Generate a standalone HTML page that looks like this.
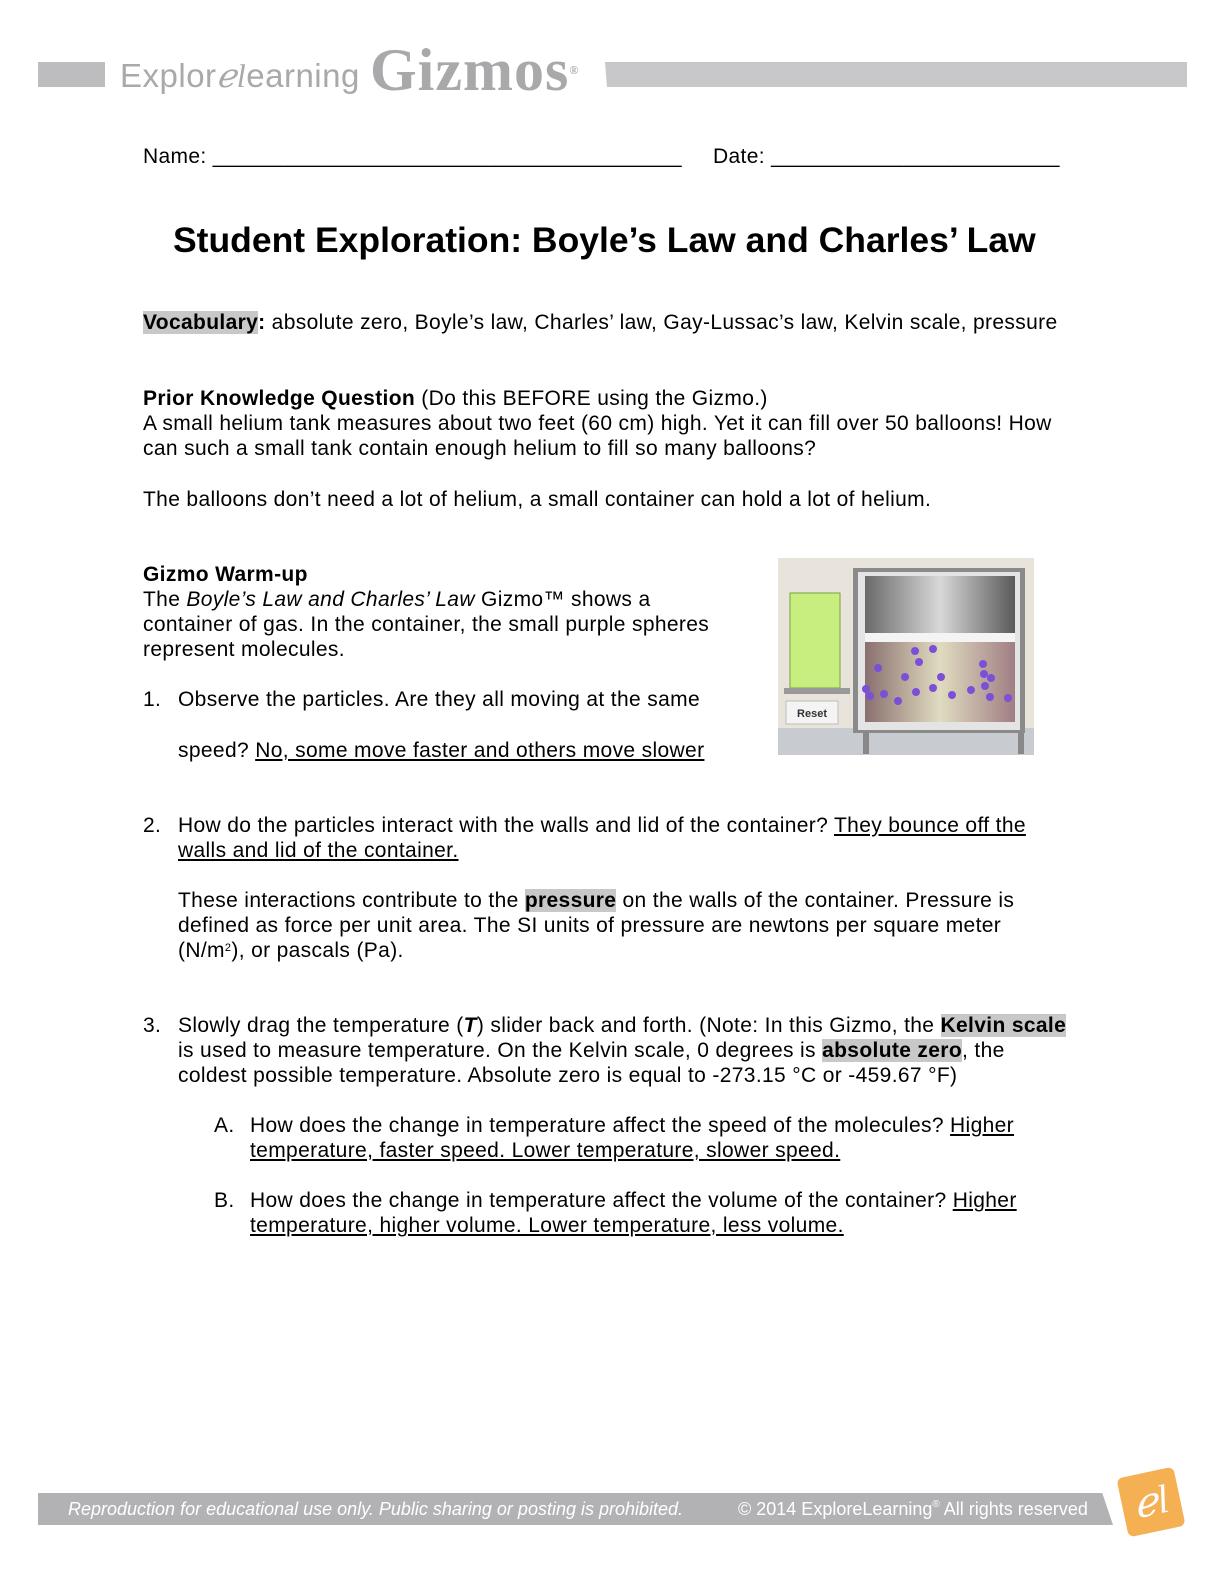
<!DOCTYPE html>
<html><head><style>
body{margin:0;width:1224px;height:1584px;background:#fff;position:relative;font-family:"Liberation Sans",sans-serif;color:#000;overflow:hidden}
.t{position:absolute;font-size:21px;letter-spacing:0.35px;line-height:25px;white-space:nowrap}
u{text-decoration:underline}
.hl{background:#c8c8c8}
</style></head><body>
<div style="position:absolute;left:38px;top:62px;width:67px;height:25px;background:#bdbdbf"></div>
<div style="position:absolute;left:120px;top:56px;font-size:33px;letter-spacing:0.5px;color:#a9a9ab;line-height:40px">Explor<span style="font-family:'Liberation Serif';font-style:italic">ℯl</span>earning</div>
<div style="position:absolute;left:370px;top:36px;font-family:'Liberation Serif',serif;font-weight:bold;font-size:60px;letter-spacing:1px;color:#a9a9ab;line-height:68px">Gizmos<span style="font-size:12px;vertical-align:top">®</span></div>
<div style="position:absolute;left:605px;top:62px;width:582px;height:25px;background:#c8c8ca;clip-path:polygon(0 0,100% 0,100% 100%,2px 100%)"></div>

<div class="t" style="left:143px;top:144px">Name: _______________________________________</div>
<div class="t" style="left:713px;top:144px">Date: ________________________</div>
<div class="t" style="left:173px;top:220px;font-size:35.5px;letter-spacing:0;line-height:40px;font-weight:bold">Student Exploration: Boyle’s Law and Charles’ Law</div>
<div class="t" style="left:143px;top:310px"><b class="hl">Vocabulary</b><b>:</b> absolute zero, Boyle’s law, Charles’ law, Gay-Lussac’s law, Kelvin scale, pressure</div>
<div class="t" style="left:143px;top:386px"><b>Prior Knowledge Question</b> (Do this BEFORE using the Gizmo.)</div>
<div class="t" style="left:143px;top:411px">A small helium tank measures about two feet (60 cm) high. Yet it can fill over 50 balloons! How</div>
<div class="t" style="left:143px;top:436px">can such a small tank contain enough helium to fill so many balloons?</div>
<div class="t" style="left:143px;top:487px">The balloons don’t need a lot of helium, a small container can hold a lot of helium.</div>
<div class="t" style="left:143px;top:562px"><b>Gizmo Warm-up</b></div>
<div class="t" style="left:143px;top:587px">The <i>Boyle’s Law and Charles’ Law</i> Gizmo™ shows a</div>
<div class="t" style="left:143px;top:612px">container of gas. In the container, the small purple spheres</div>
<div class="t" style="left:143px;top:637px">represent molecules.</div>
<div class="t" style="left:143px;top:687px">1.</div><div class="t" style="left:178px;top:687px">Observe the particles. Are they all moving at the same</div>
<div class="t" style="left:178px;top:738px">speed? <u>No, some move faster and others move slower</u></div>

<svg style="position:absolute;left:778px;top:558px" width="256" height="197" viewBox="0 0 256 197">
<defs><linearGradient id="g1" x1="0" x2="1"><stop offset="0" stop-color="#6a6a6a"/><stop offset=".5" stop-color="#d8d8d8"/><stop offset="1" stop-color="#5a5a5a"/></linearGradient>
<linearGradient id="g2" x1="0" x2="1"><stop offset="0" stop-color="#8a6f6f"/><stop offset=".5" stop-color="#e0dcc0"/><stop offset="1" stop-color="#a07e84"/></linearGradient></defs>
<rect width="256" height="197" fill="#e8e4dc"/>
<rect y="170" width="256" height="27" fill="#c8ccd0"/>
<rect x="75" y="10" width="172" height="165" fill="#8a8a8a"/>
<rect x="80" y="14" width="162" height="158" fill="#e4e4e4"/>
<rect x="87" y="18" width="150" height="58" fill="url(#g1)"/>
<rect x="87" y="75" width="150" height="9" fill="#f4f4f4"/>
<rect x="87" y="84" width="150" height="80" fill="url(#g2)"/>
<rect x="85" y="174" width="6" height="22" fill="#888"/><rect x="240" y="174" width="6" height="22" fill="#888"/>
<rect x="12" y="35" width="50" height="95" fill="#c8ee80" stroke="#7aa040"/>
<rect x="6" y="130" width="66" height="6" fill="#999"/>
<rect x="8" y="143" width="52" height="23" fill="#f4f4f4" stroke="#bbb"/>
<text x="34" y="159" font-size="11" font-weight="bold" text-anchor="middle" font-family="Liberation Sans" fill="#333">Reset</text>
<g fill="#7b4fd8"><circle cx="137" cy="93" r="4"/><circle cx="155" cy="91" r="4"/><circle cx="141" cy="104" r="4"/><circle cx="100" cy="110" r="4"/><circle cx="127" cy="119" r="4"/><circle cx="163" cy="119" r="4"/><circle cx="205" cy="106" r="4"/><circle cx="206" cy="116" r="4"/><circle cx="213" cy="120" r="4"/><circle cx="88" cy="131" r="4"/><circle cx="92" cy="138" r="4"/><circle cx="106" cy="136" r="4"/><circle cx="120" cy="143" r="4"/><circle cx="138" cy="134" r="4"/><circle cx="155" cy="130" r="4"/><circle cx="174" cy="137" r="4"/><circle cx="193" cy="132" r="4"/><circle cx="207" cy="128" r="4"/><circle cx="212" cy="139" r="4"/><circle cx="230" cy="140" r="4"/></g>
</svg>

<div class="t" style="left:143px;top:813px">2.</div><div class="t" style="left:178px;top:813px">How do the particles interact with the walls and lid of the container? <u>They bounce off the </u></div>
<div class="t" style="left:178px;top:838px"><u>walls and lid of the container.</u></div>
<div class="t" style="left:178px;top:888px">These interactions contribute to the <b class="hl">pressure</b> on the walls of the container. Pressure is</div>
<div class="t" style="left:178px;top:913px">defined as force per unit area. The SI units of pressure are newtons per square meter</div>
<div class="t" style="left:178px;top:938px">(N/m<span style="font-size:11px;vertical-align:6px;line-height:0">2</span>), or pascals (Pa).</div>
<div class="t" style="left:143px;top:1013px">3.</div><div class="t" style="left:178px;top:1013px">Slowly drag the temperature (<b><i>T</i></b>) slider back and forth. (Note: In this Gizmo, the <b class="hl">Kelvin scale</b></div>
<div class="t" style="left:178px;top:1038px">is used to measure temperature. On the Kelvin scale, 0 degrees is <b class="hl">absolute zero</b>, the</div>
<div class="t" style="left:178px;top:1063px">coldest possible temperature. Absolute zero is equal to -273.15 °C or -459.67 °F)</div>
<div class="t" style="left:214px;top:1113px">A.</div><div class="t" style="left:250px;top:1113px">How does the change in temperature affect the speed of the molecules? <u>Higher </u></div>
<div class="t" style="left:250px;top:1138px"><u>temperature, faster speed. Lower temperature, slower speed.</u></div>
<div class="t" style="left:214px;top:1188px">B.</div><div class="t" style="left:250px;top:1188px">How does the change in temperature affect the volume of the container? <u>Higher </u></div>
<div class="t" style="left:250px;top:1213px"><u>temperature, higher volume. Lower temperature, less volume.</u></div>

<div style="position:absolute;left:38px;top:1493px;width:1075px;height:32px;background:#b2b2b4;clip-path:polygon(0 0,99% 0,100% 100%,0 100%)"></div>
<div class="t" style="left:68px;top:1497px;color:#fff;font-style:italic;font-size:18px;letter-spacing:0">Reproduction for educational use only. Public sharing or posting is prohibited.</div>
<div class="t" style="left:738px;top:1497px;color:#fff;font-size:18px;letter-spacing:0">© 2014 ExploreLearning<span style="font-size:10px;vertical-align:8px;line-height:0">®</span>  All rights reserved</div>
<div style="position:absolute;left:1122px;top:1472px;width:58px;height:60px;background:#f5b054;border-radius:6px;transform:rotate(-12deg);color:#fff;font-size:40px;font-family:'Liberation Serif';font-style:italic;text-align:center;line-height:60px">ℯl</div>
</body></html>
